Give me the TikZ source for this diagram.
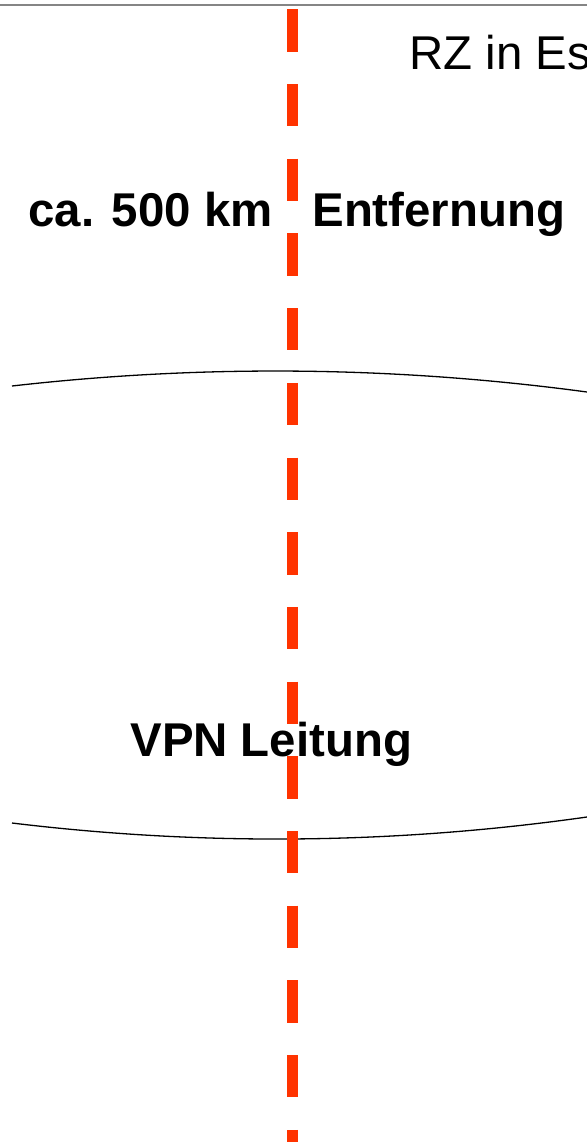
\documentclass[tikz,border=0pt]{standalone}
\usepackage{fontspec}
\setmainfont{Liberation Sans}
\definecolor{lineorange}{RGB}{255,51,0}
\begin{document}
\begin{tikzpicture}[x=0.5pt,y=-0.5pt,
        txt/.style={inner sep=0pt,anchor=base west,font=\fontsize{23.7}{28}\selectfont},
        boldtxt/.style={txt,font=\fontsize{23.7}{28}\selectfont\bfseries},
        tube/.style={line width=0.65pt},
        border/.style={draw=black!48,line width=1.3pt}]
                \useasboundingbox (0,0) rectangle (587,1142);
                \draw[border] (0,5) coordinate (L) -- (587,5) coordinate (R);
                \draw[tube] (12,386) coordinate (UA) .. controls (203.7,364.2) and (395.3,366.2) .. (587,392) coordinate (UB);
                \draw[tube] (12,823) coordinate (DA) .. controls (203.7,846.2) and (395.3,844.2) .. (587,817) coordinate (DB);
                \draw[lineorange,line width=5.35pt,dash pattern=on 21.15pt off 16.2pt] (292.7,9.3) coordinate (T) -- (292.7,1150) coordinate (B);
                \node[txt] (rz) at (409,69.5) {RZ in Es};
                \node[boldtxt] (dist) at (28,226) {ca. 500 km};
                \node[boldtxt] (entf) at (312,226) {Entfernung};
                \node[boldtxt] (vpn) at (130,756) {VPN Leitung};
            \end{tikzpicture}
\end{document}
